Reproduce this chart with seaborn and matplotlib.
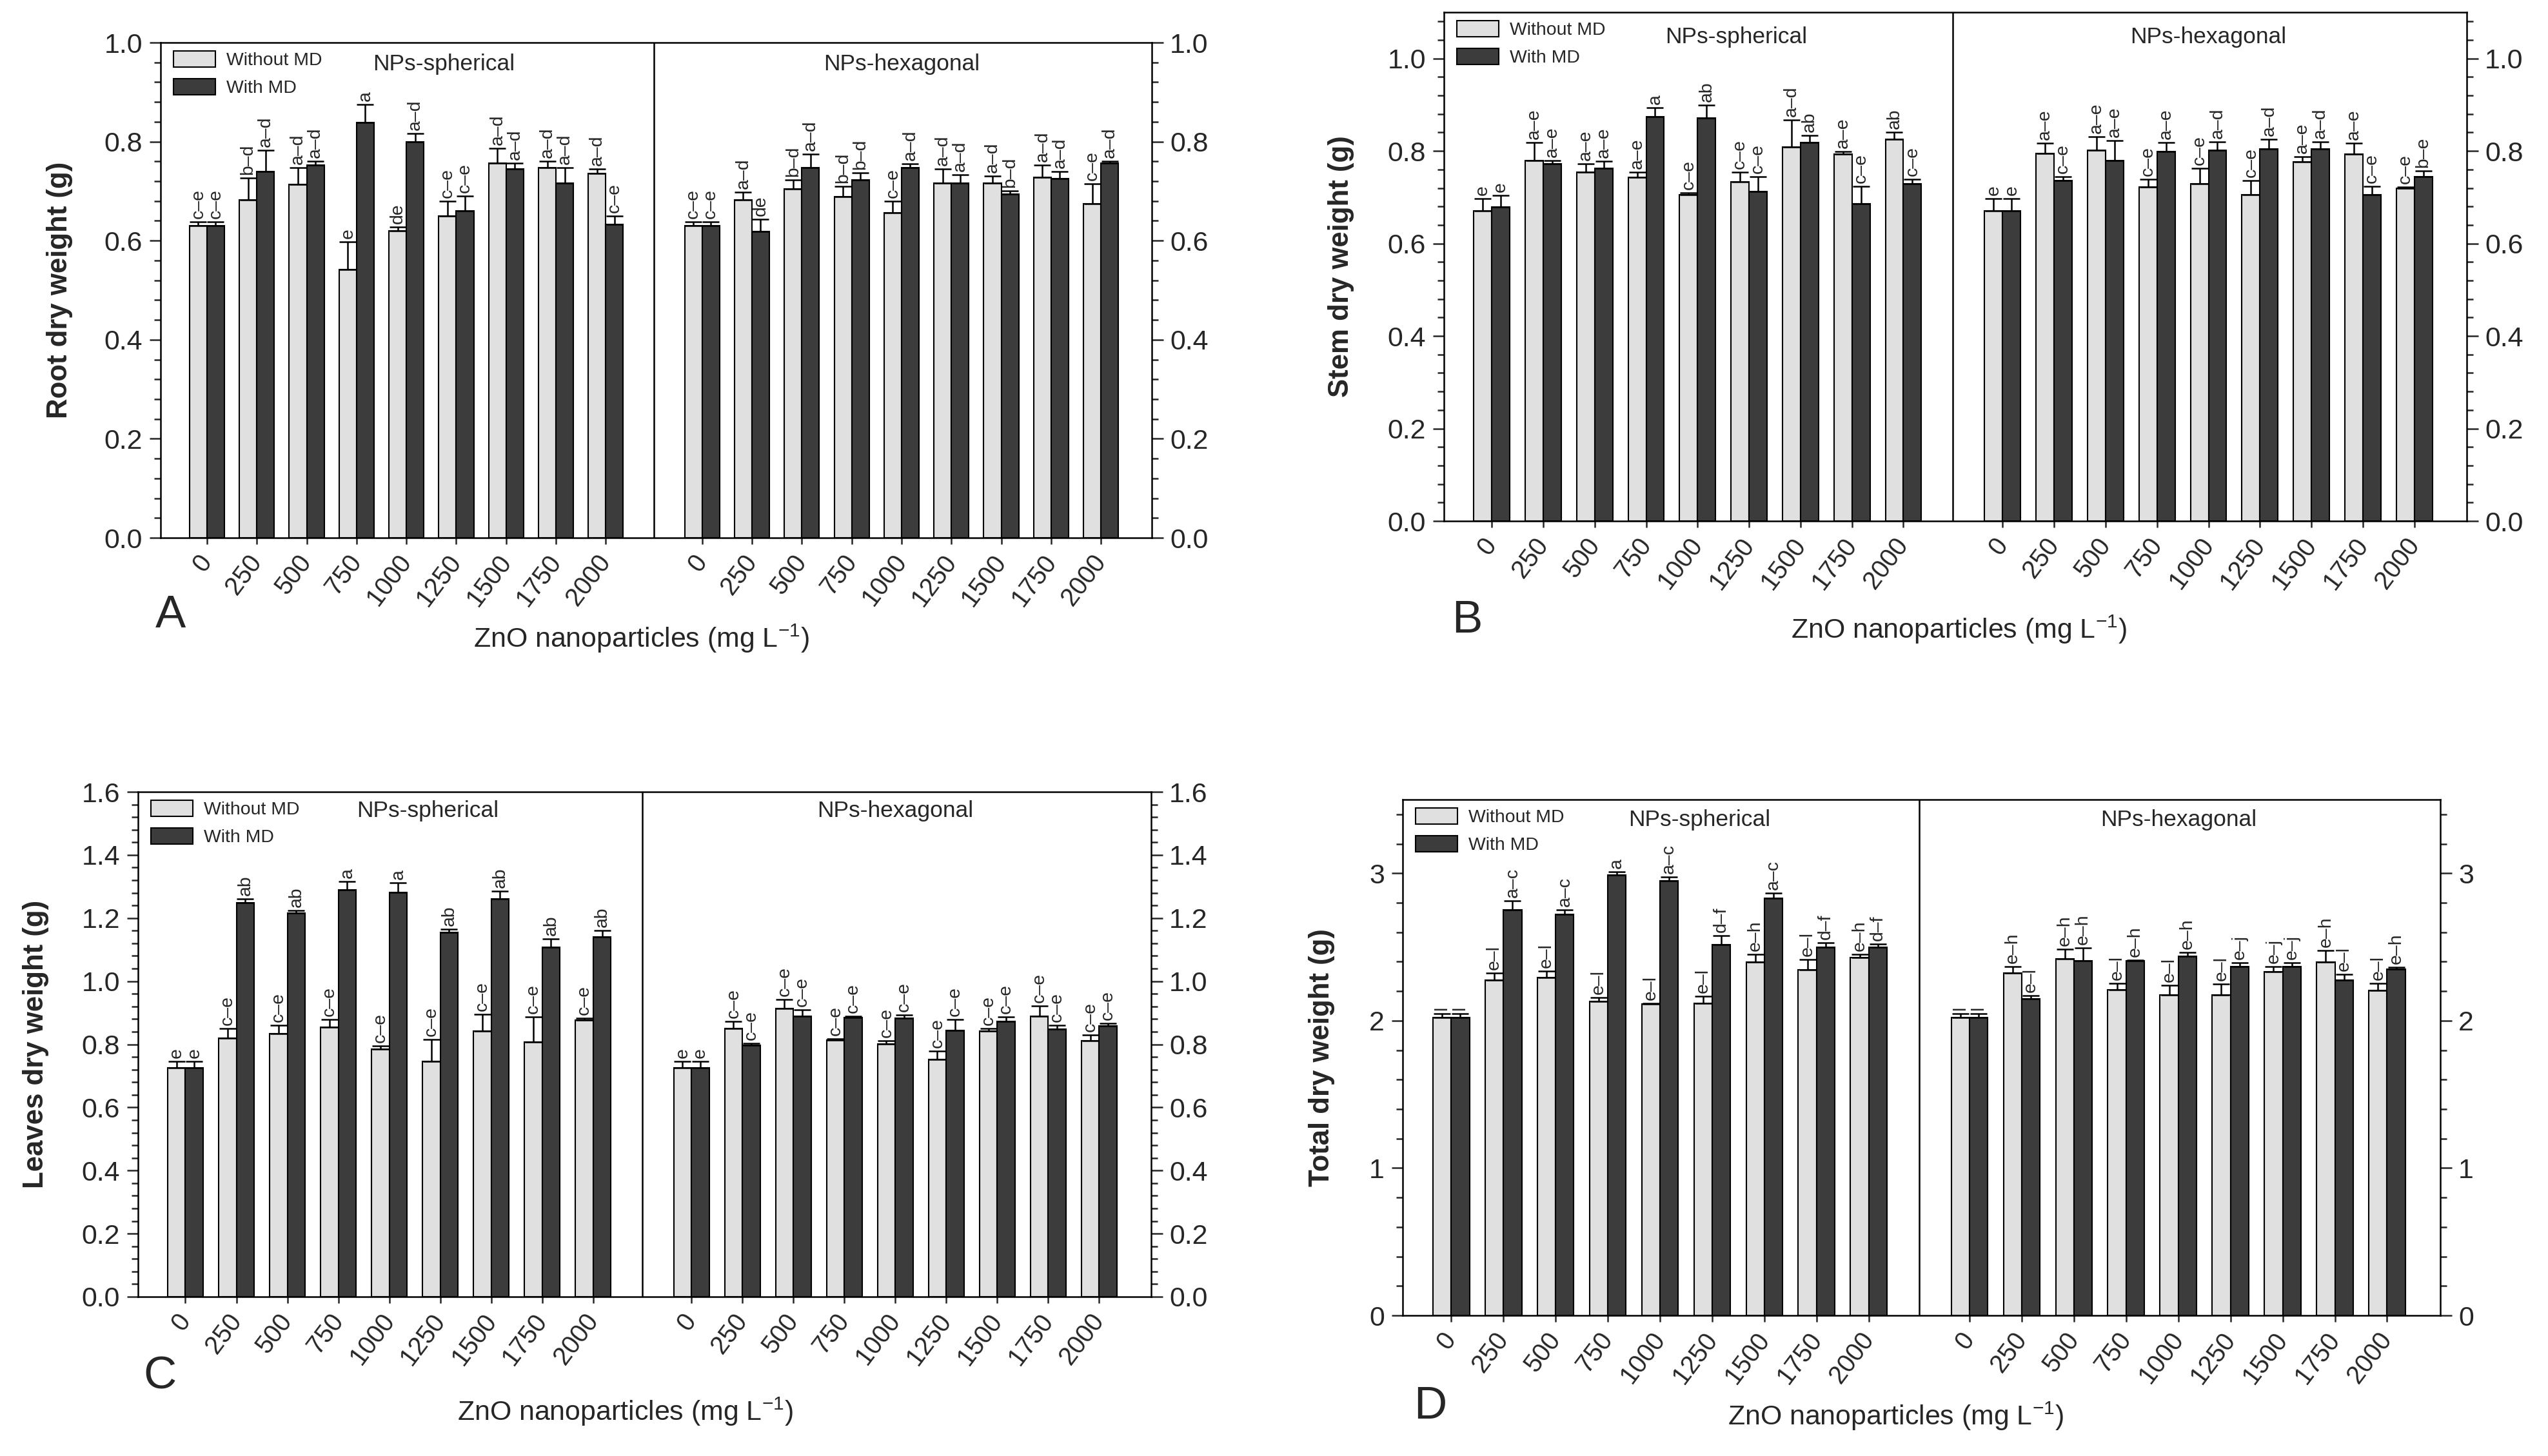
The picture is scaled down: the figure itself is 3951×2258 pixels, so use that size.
import numpy as np
import pandas as pd
import matplotlib
matplotlib.use("Agg")
import matplotlib.pyplot as plt
from matplotlib.ticker import MultipleLocator, FormatStrFormatter
import seaborn as sns

# doses of ZnO nanoparticles (mg/L), same for both particle shapes
doses = ["0", "250", "500", "750", "1000", "1250", "1500", "1750", "2000"]
groups = ["NPs-spherical", "NPs-hexagonal"]

# values: 9 spherical doses followed by 9 hexagonal doses
root_without = [0.630, 0.682, 0.713, 0.542, 0.620, 0.650, 0.756, 0.748, 0.736,
                0.630, 0.682, 0.705, 0.689, 0.656, 0.716, 0.716, 0.728, 0.674]
root_without_se = [0.008, 0.045, 0.034, 0.056, 0.007, 0.030, 0.030, 0.012, 0.009,
                   0.008, 0.016, 0.018, 0.021, 0.024, 0.029, 0.015, 0.024, 0.041]
root_with = [0.630, 0.739, 0.753, 0.839, 0.800, 0.660, 0.745, 0.716, 0.633,
             0.630, 0.619, 0.748, 0.723, 0.748, 0.716, 0.694, 0.725, 0.756]
root_with_se = [0.008, 0.043, 0.007, 0.036, 0.017, 0.030, 0.012, 0.032, 0.017,
                0.008, 0.024, 0.027, 0.014, 0.007, 0.017, 0.006, 0.015, 0.004]
root_let_without = ["c–e", "b–d", "a–d", "e", "de", "c–e", "a–d", "a–d", "a–d",
                    "c–e", "a–d", "b–d", "b–d", "c–e", "a–d", "a–d", "a–d", "c–e"]
root_let_with = ["c–e", "a–d", "a–d", "a", "a–d", "c–e", "a–d", "a–d", "c–e",
                 "c–e", "de", "a–d", "b–d", "a–d", "a–d", "b–d", "a–d", "a–d"]

stem_without = [0.671, 0.780, 0.754, 0.743, 0.705, 0.733, 0.809, 0.793, 0.826,
                0.671, 0.794, 0.802, 0.722, 0.729, 0.705, 0.777, 0.793, 0.720]
stem_without_se = [0.026, 0.039, 0.019, 0.011, 0.004, 0.021, 0.058, 0.006, 0.014,
                   0.026, 0.023, 0.029, 0.017, 0.033, 0.031, 0.011, 0.024, 0.002]
stem_with = [0.679, 0.773, 0.762, 0.874, 0.871, 0.712, 0.819, 0.686, 0.729,
             0.671, 0.736, 0.780, 0.799, 0.802, 0.804, 0.805, 0.705, 0.745]
stem_with_se = [0.025, 0.006, 0.016, 0.020, 0.028, 0.033, 0.015, 0.037, 0.010,
                0.026, 0.009, 0.042, 0.020, 0.018, 0.021, 0.015, 0.018, 0.012]
stem_let_without = ["e", "a–e", "a–e", "a–e", "c–e", "c–e", "a–d", "a–e", "ab",
                    "e", "a–e", "a–e", "c–e", "c–e", "c–e", "a–e", "a–e", "c–e"]
stem_let_with = ["e", "a–e", "a–e", "a", "ab", "c–e", "ab", "c–e", "c–e",
                 "e", "c–e", "a–e", "a–e", "a–d", "a–d", "a–d", "c–e", "b–e"]

leaves_without = [0.726, 0.820, 0.834, 0.854, 0.785, 0.745, 0.841, 0.807, 0.876,
                  0.726, 0.850, 0.913, 0.814, 0.801, 0.753, 0.841, 0.889, 0.812]
leaves_without_se = [0.019, 0.030, 0.027, 0.025, 0.010, 0.070, 0.055, 0.080, 0.006,
                     0.019, 0.022, 0.028, 0.004, 0.011, 0.025, 0.009, 0.033, 0.018]
leaves_with = [0.726, 1.248, 1.216, 1.289, 1.281, 1.154, 1.260, 1.108, 1.141,
               0.726, 0.797, 0.889, 0.885, 0.883, 0.844, 0.872, 0.847, 0.859]
leaves_with_se = [0.019, 0.012, 0.009, 0.026, 0.031, 0.010, 0.026, 0.026, 0.019,
                  0.019, 0.007, 0.020, 0.004, 0.009, 0.035, 0.014, 0.014, 0.007]
leaves_let_without = ["e"] + ["c–e"] * 8 + ["e"] + ["c–e"] * 8
leaves_let_with = ["e", "ab", "ab", "a", "a", "ab", "ab", "ab", "ab",
                   "e"] + ["c–e"] * 8

total_without = [2.020, 2.273, 2.291, 2.131, 2.112, 2.118, 2.396, 2.347, 2.427,
                 2.020, 2.325, 2.421, 2.211, 2.174, 2.174, 2.334, 2.399, 2.205]
total_without_se = [0.027, 0.049, 0.046, 0.028, 0.004, 0.047, 0.055, 0.067, 0.021,
                    0.027, 0.043, 0.064, 0.043, 0.068, 0.074, 0.034, 0.077, 0.049]
total_with = [2.020, 2.754, 2.723, 2.988, 2.948, 2.516, 2.831, 2.498, 2.498,
              2.020, 2.149, 2.408, 2.405, 2.436, 2.365, 2.368, 2.276, 2.350]
total_with_se = [0.027, 0.058, 0.031, 0.022, 0.025, 0.062, 0.034, 0.030, 0.021,
                 0.027, 0.022, 0.087, 0.004, 0.025, 0.028, 0.025, 0.037, 0.012]
total_let_without = ["l", "e–l", "e–l", "e–l", "e–l", "e–l", "e–h", "e–l", "e–h",
                     "l", "e–h", "e–h", "e–l", "e–l", "e–l", "e–j", "e–h", "e–l"]
total_let_with = ["l", "a–c", "a–c", "a", "a–c", "d–f", "a–c", "d–f", "d–f",
                  "l", "e–l", "e–h", "e–h", "e–h", "e–j", "e–j", "e–l", "e–h"]

LIGHT = "#e0e0e0"
DARK = "#3c3c3c"

sns.set_theme(style="ticks")
plt.rcParams["font.family"] = ["Liberation Sans", "DejaVu Sans"]
plt.rcParams["mathtext.default"] = "regular"

W, H = 3951, 2258
fig = plt.figure(figsize=(W / 300, H / 300), dpi=300)

positions = np.concatenate([np.arange(9), np.arange(9) + 9.93])


def draw_panel(box, without, without_se, with_md, with_se, let_wo, let_w,
               ylabel, ymax, major, minor, fmt, tag, tag_xy, ylab_x, xlab_xy, title_dy):
    l, r, t, b = box
    w, h = r - l, b - t
    ax = fig.add_axes([l / W, 1 - b / H, w / W, h / H])

    df = pd.DataFrame({
        "pos": np.tile(positions, 2),
        "value": without + with_md,
        "treatment": ["Without MD"] * 18 + ["With MD"] * 18,
    })
    sns.barplot(data=df, x="pos", y="value", hue="treatment", native_scale=True,
                width=0.7, palette=[LIGHT, DARK], edgecolor="black", linewidth=0.5,
                errorbar=None, ax=ax)

    bars = list(ax.containers[:2])
    for cont, se, lets in zip(bars, [without_se, with_se], [let_wo, let_w]):
        xs = [p.get_x() + p.get_width() / 2 for p in cont]
        ys = [p.get_height() for p in cont]
        ax.errorbar(xs, ys, yerr=[np.zeros(len(se)), se], fmt="none", ecolor="black",
                    elinewidth=0.6, capsize=3.1, capthick=0.6)
        for x, y, e, s in zip(xs, ys, se, lets):
            ax.annotate(s, (x, y + e), xytext=(0, 1.2), textcoords="offset points",
                        rotation=90, ha="center", va="bottom", fontsize=6.8)

    ax.axvline(8.965, color="black", lw=0.6)
    ax.set_xlim(-0.93, 18.95)
    ax.set_ylim(0, ymax)
    ax.set_xticks(positions)
    ax.set_xticklabels(doses * 2, rotation=53, ha="right", va="center",
                       rotation_mode="anchor")
    ax.yaxis.set_major_locator(MultipleLocator(major))
    ax.yaxis.set_minor_locator(MultipleLocator(minor))
    ax.yaxis.set_major_formatter(FormatStrFormatter(fmt))
    ax.tick_params(axis="y", which="both", left=True, right=True, labelright=True,
                   direction="out", width=0.6)
    ax.tick_params(axis="y", which="major", length=4.2, labelsize=10.3, pad=2.5)
    ax.tick_params(axis="y", which="minor", length=2.4)
    ax.tick_params(axis="x", length=2.4, width=0.6, labelsize=9.5, pad=5)
    for sp in ax.spines.values():
        sp.set_linewidth(0.6)
        sp.set_color("black")

    ax.set_xlabel("")
    ax.set_ylabel(ylabel, fontsize=10.5, fontweight="bold", va="center")
    ax.yaxis.set_label_coords((ylab_x - l) / w, 0.5)

    ty = 1 - title_dy / h
    ax.text(4.75, ty, groups[0], transform=ax.get_xaxis_transform(),
            ha="center", va="center", fontsize=8.5)
    ax.text(13.93, ty, groups[1], transform=ax.get_xaxis_transform(),
            ha="center", va="center", fontsize=8.5)

    sns.move_legend(ax, "upper left", bbox_to_anchor=(20 / w, 1 - 13 / h),
                    frameon=False, title=None, fontsize=6.8, handlelength=2.3,
                    handleheight=1.0, labelspacing=0.5, handletextpad=0.6,
                    borderaxespad=0, borderpad=0)

    fig.text(tag_xy[0] / W, 1 - tag_xy[1] / H, tag, fontsize=17,
             ha="center", va="center")
    fig.text(xlab_xy[0] / W, 1 - xlab_xy[1] / H, "ZnO nanoparticles (mg L$^{-1}$)",
             fontsize=10.3, ha="center", va="center")
    return ax


draw_panel((249, 1786, 66, 834), root_without, root_without_se, root_with, root_with_se,
           root_let_without, root_let_with, "Root dry weight (g)", 1.0, 0.2, 0.04,
           "%.1f", "A", (264, 955), 93, (995, 990), 33)
draw_panel((2239, 3825, 19, 808), stem_without, stem_without_se, stem_with, stem_with_se,
           stem_let_without, stem_let_with, "Stem dry weight (g)", 1.1, 0.2, 0.04,
           "%.1f", "B", (2275, 963), 2080, (3038, 976), 38)
draw_panel((214, 1785, 1228, 2011), leaves_without, leaves_without_se, leaves_with,
           leaves_with_se, leaves_let_without, leaves_let_with, "Leaves dry weight (g)",
           1.6, 0.2, 0.04, "%.1f", "C", (248, 2136), 56, (970, 2189), 29)
draw_panel((2175, 3784, 1240, 2040), total_without, total_without_se, total_with,
           total_with_se, total_let_without, total_let_with, "Total dry weight (g)",
           3.5, 1, 0.2, "%.0f", "D", (2218, 2182), 2050, (2940, 2196), 32)

fig.savefig("out.png", dpi=300, facecolor="white")
